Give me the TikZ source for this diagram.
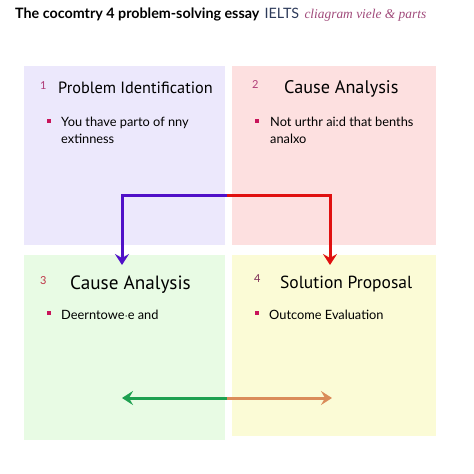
\documentclass[tikz,border=0pt]{standalone}
\usepackage{fontspec}
\setmainfont{Lato}
\newfontfamily\headfont{PT Sans}
\newfontfamily\serifit{Liberation Serif}
\usepackage{tikz}
\usetikzlibrary{arrows.meta,positioning}
\definecolor{boxlav}{RGB}{236,232,252}
\definecolor{boxpink}{RGB}{253,224,224}
\definecolor{boxgreen}{RGB}{232,251,228}
\definecolor{boxyellow}{RGB}{251,251,214}
\definecolor{numpink}{RGB}{176,60,120}
\definecolor{numred}{RGB}{190,50,70}
\definecolor{bulmag}{RGB}{200,20,90}
\definecolor{arrpurple}{RGB}{80,16,200}
\definecolor{arrred}{RGB}{224,16,16}
\definecolor{arrgreen}{RGB}{30,160,80}
\definecolor{arrorange}{RGB}{218,140,90}
\definecolor{slate}{RGB}{45,58,90}
\definecolor{mauve}{RGB}{160,74,122}

\tikzset{
  panel/.style={anchor=north west, inner sep=0pt, draw=none},
  num/.style={anchor=base west, inner sep=0pt, font=\fontsize{11}{13}\selectfont},
  head/.style={anchor=base west, inner sep=0pt, font=\headfont\fontsize{#1}{20}\selectfont},
  head/.default=16.3,
  bul/.style={fill=bulmag, minimum size=4pt, inner sep=0pt},
  bultxt/.style={anchor=north west, inner sep=0pt, align=left,
    font=\fontsize{12.8}{17}\selectfont},
  flow/.style={line width=3pt, -{Stealth[length=11pt,width=14pt,inset=4pt]}},
}

\begin{document}
\begin{tikzpicture}[x=1pt,y=-1pt]
\useasboundingbox (0,0) rectangle (474,474);

% title line
\node[anchor=base west, inner sep=0pt] (title) at (15,18)
  {\fontsize{14.3}{16}\selectfont\bfseries The cocomtry 4 problem-solving essay};
\node[inner sep=0pt, text=slate, right=5pt of title.base east, anchor=base west] (ielts)
  {\fontsize{14.3}{16}\selectfont IELTS};
\node[inner sep=0pt, text=mauve, right=5pt of ielts.base east, anchor=base west] (sub)
  {\serifit\itshape\fontsize{13.4}{16}\selectfont cliagram viele \& parts};

% four panels
\node[panel, fill=boxlav, minimum width=201pt, minimum height=179pt] (p1) at (24,66) {};
\node[panel, fill=boxpink, minimum width=204pt, minimum height=179pt] (p2) at (232,66) {};
\node[panel, fill=boxgreen, minimum width=201pt, minimum height=185pt] (p3) at (24,255) {};
\node[panel, fill=boxyellow, minimum width=204pt, minimum height=181pt] (p4) at (232,255) {};

% panel 1
\node[num, text=numpink] (n1) at (40,89) {1};
\node[head] (h1) at (58,93) {Problem Identification};
\node[bul] (b1) at (49,121) {};
\node[bultxt] (t1) at (61,117) {You thave parto of nny\\extinness};

% panel 2
\node[num, text=numpink] (n2) at (252,88) {2};
\node[head=18.2] (h2) at (284,93) {Cause Analysis};
\node[bul] (b2) at (257,121) {};
\node[bultxt] (t2) at (270,117) {Not urthr ai:d that benths\\analxo};

% panel 3
\node[num, text=numred] (n3) at (40,284) {3};
\node[head=19.2] (h3) at (70,289) {Cause Analysis};
\node[bul] (b3) at (49,313) {};
\node[bultxt] (t3) at (61,310) {Deerntowe$\cdot$e and};

% panel 4
\node[num, text=numpink!70!black] (n4) at (254,282) {4};
\node[head=17.5] (h4) at (280,288) {Solution Proposal};
\node[bul] (b4) at (257,313) {};
\node[bultxt] (t4) at (269,310) {Outcome Evaluation};

% connectors
\coordinate (topmid) at (227,195);
\coordinate (in3) at (122,265);
\coordinate (in4) at (330,265);
\draw[flow, arrpurple, line join=miter] (topmid) -| (in3);
\draw[flow, arrred, line join=miter] (topmid) -| (in4);

\coordinate (botmid) at (227,398);
\coordinate (end3) at (122,398);
\coordinate (end4) at (332,398);
\draw[flow, arrgreen] (botmid) -- (end3);
\draw[flow, arrorange] (botmid) -- (end4);
\end{tikzpicture}
\end{document}
